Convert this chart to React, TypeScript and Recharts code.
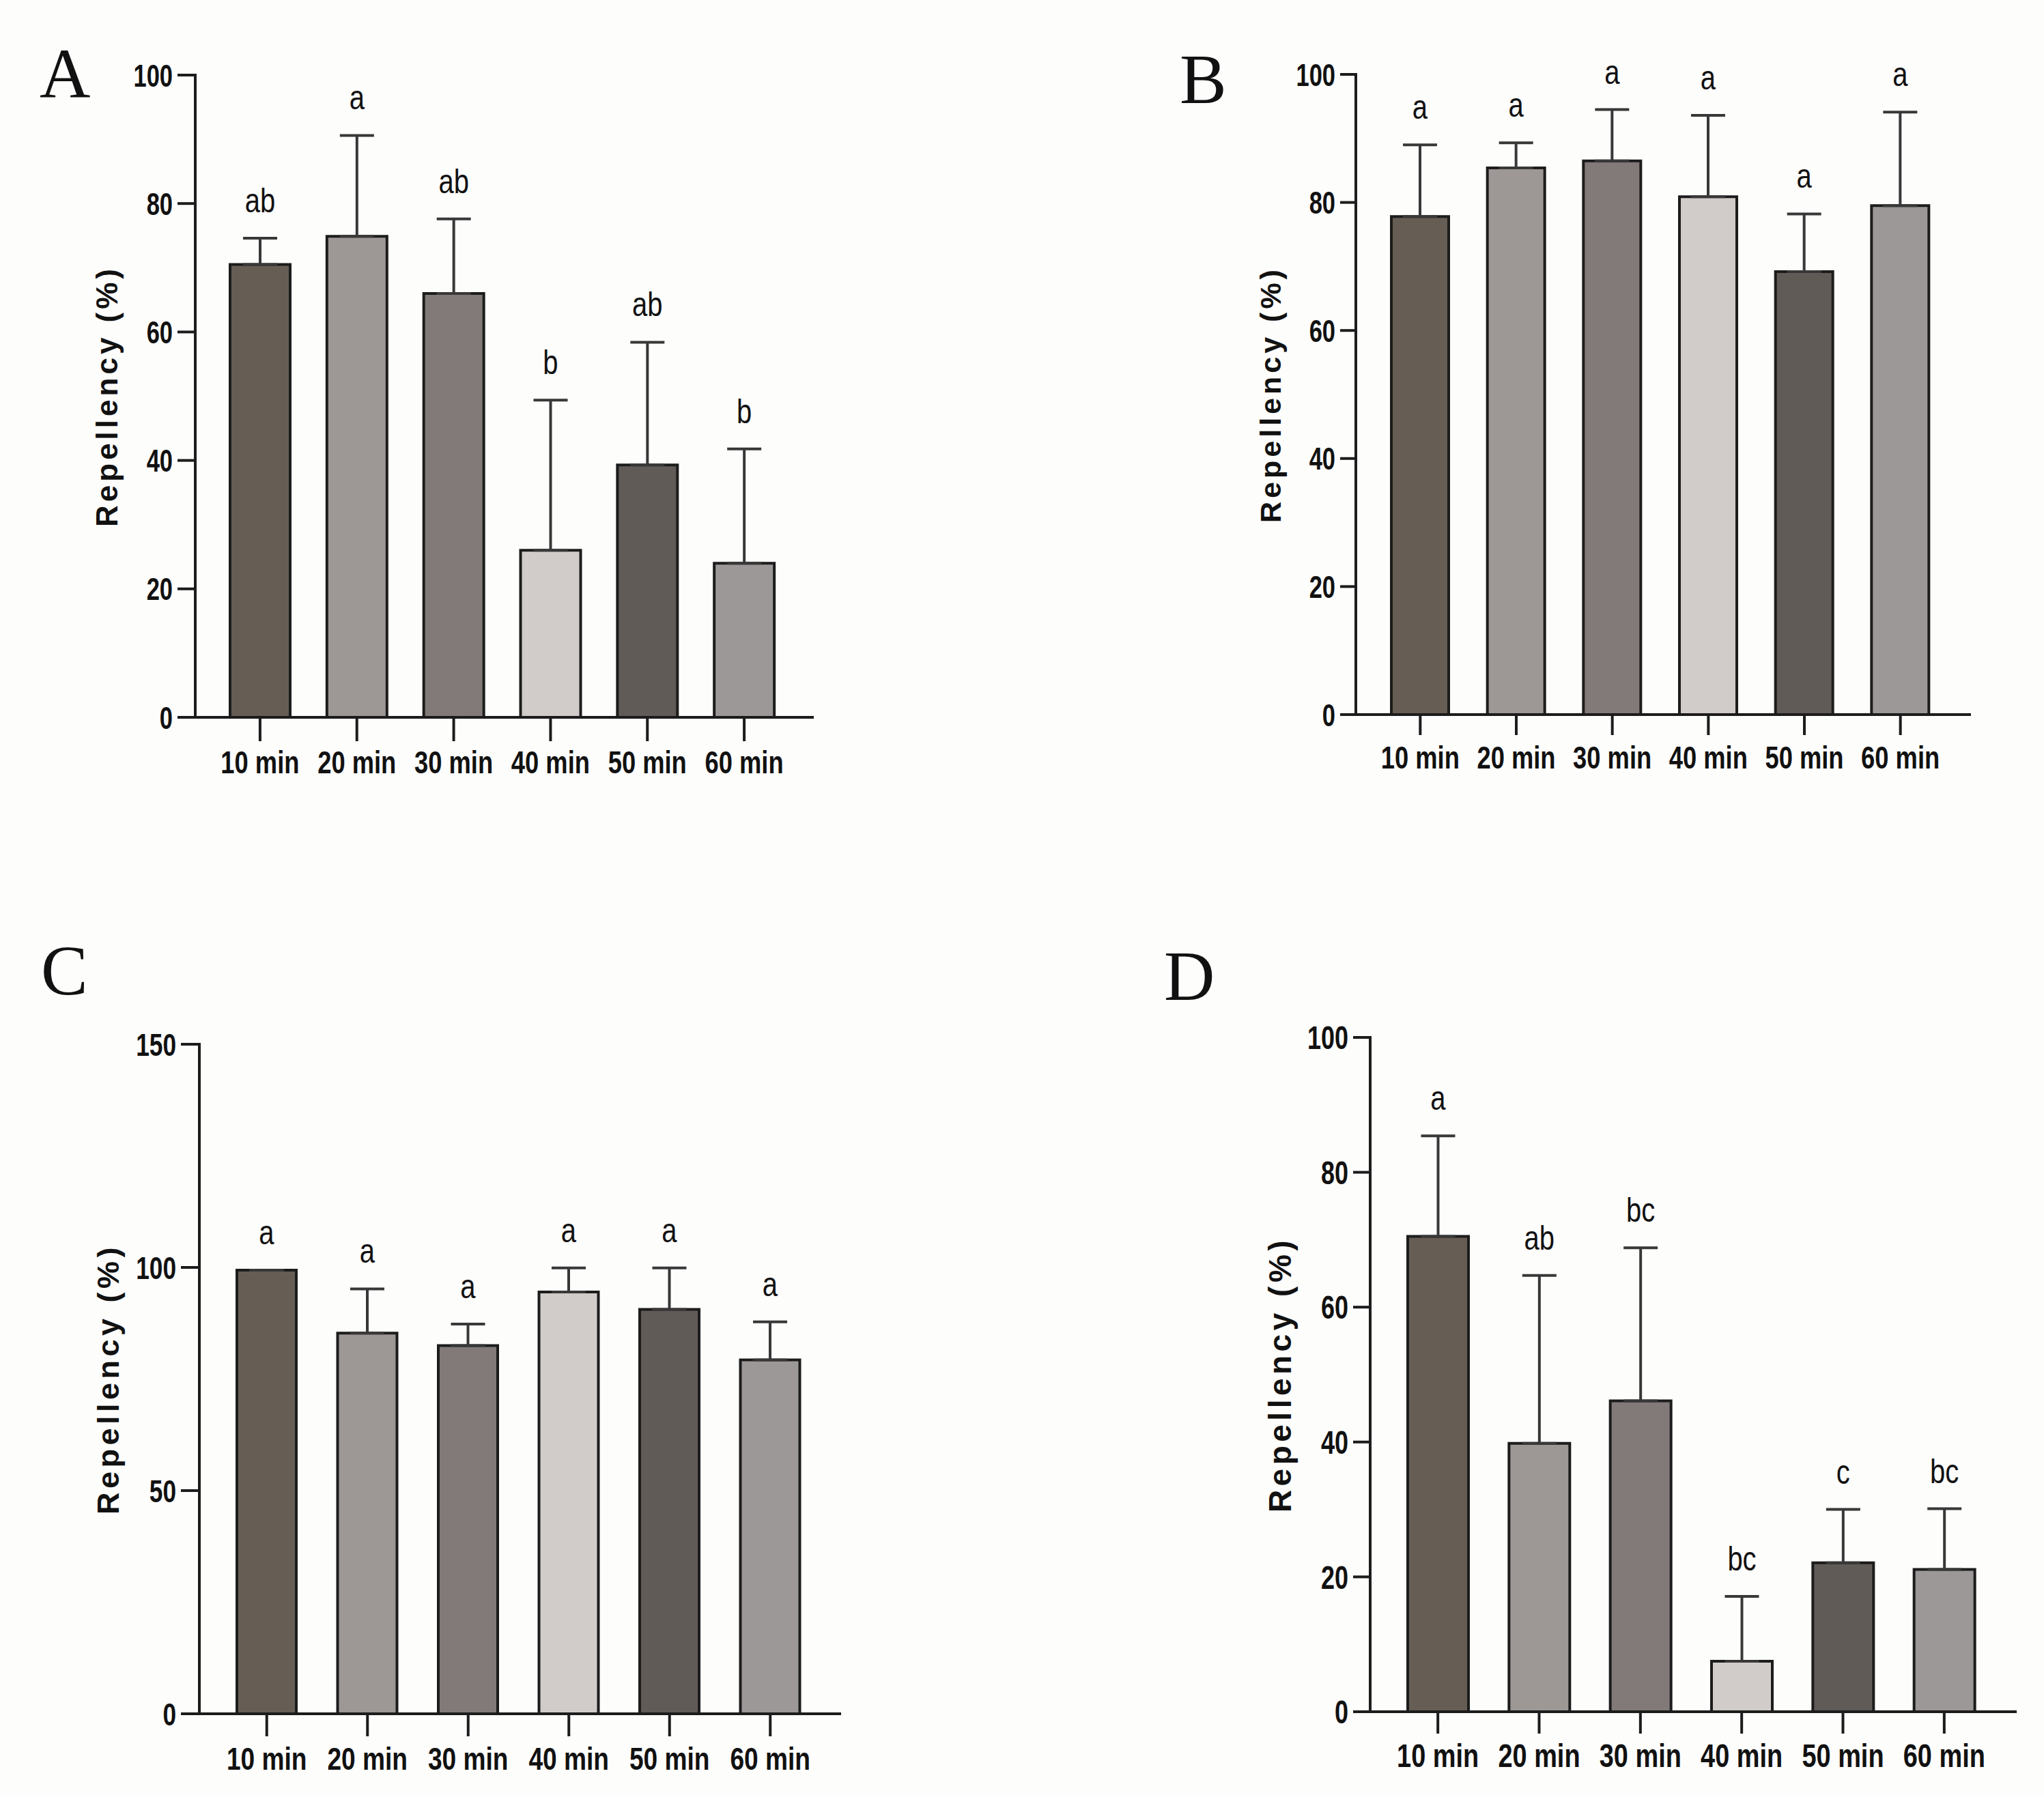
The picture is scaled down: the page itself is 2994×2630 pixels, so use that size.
import React from 'react';
import { BarChart, Bar, XAxis, YAxis, ErrorBar, Cell, LabelList } from 'recharts';

// exposure times (x categories)
const times = ['10 min', '20 min', '30 min', '40 min', '50 min', '60 min'];

// panel A
const meanA = [70.5, 74.9, 66.0, 26.0, 39.3, 24.0];
const sdA = [4.1, 15.7, 11.6, 23.4, 19.1, 17.8];
const lettersA = ['ab', 'a', 'ab', 'b', 'ab', 'b'];

// panel B
const meanB = [77.8, 85.4, 86.5, 80.9, 69.2, 79.5];
const sdB = [11.2, 3.9, 8.0, 12.7, 9.0, 14.6];
const lettersB = ['a', 'a', 'a', 'a', 'a', 'a'];

// panel C
const meanC = [99.4, 85.3, 82.5, 94.5, 90.6, 79.3];
const sdC = [0, 9.9, 4.8, 5.4, 9.3, 8.5];
const lettersC = ['a', 'a', 'a', 'a', 'a', 'a'];

// panel D
const meanD = [70.5, 39.8, 46.1, 7.5, 22.1, 21.1];
const sdD = [14.9, 24.9, 22.7, 9.6, 7.9, 9.0];
const lettersD = ['a', 'ab', 'bc', 'bc', 'c', 'bc'];

const ticks100 = [0, 20, 40, 60, 80, 100];
const ticks150 = [0, 50, 100, 150];

const barFills = ['#665d54', '#9d9796', '#817a78', '#d1ccc9', '#615b58', '#9d9898'];
const ink = '#1c1c1c';
const sans = '"Liberation Sans", Arial, sans-serif';
const serif = '"Liberation Serif", "Times New Roman", serif';

// condensed look: no narrow face is installed, so squeeze Liberation Sans horizontally
function SqueezedText({ x, y, anchor, dy, size, weight, squeeze, children }: any) {
  return (
    <g transform={`translate(${x},${y})`}>
      <text
        transform={`scale(${squeeze},1)`}
        textAnchor={anchor}
        dy={dy}
        style={{ fontFamily: sans, fontSize: size, fontWeight: weight, fill: '#111' }}
      >
        {children}
      </text>
    </g>
  );
}

function Panel(p: any) {
  const { box, axisX, xEnd, yTop, yBottom } = p;
  const rows = times.map((t, i) => ({
    time: t,
    mean: p.means[i],
    err: [0, p.sds[i]],
    letter: p.letters[i],
  }));
  const xAxisHeight = 120;
  const margin = {
    top: yTop - box.top,
    right: box.left + box.w - xEnd,
    bottom: box.top + box.h - yBottom - xAxisHeight,
    left: 0,
  };

  const letterLabel = (lp: any) => {
    const i = lp.index;
    const vb = lp.viewBox || lp;
    const mean = p.means[i];
    const sd = p.sds[i];
    // bar pixels per unit -> top of the error bar
    const perUnit = vb.height / mean;
    const topY = vb.y - sd * perUnit;
    return (
      <SqueezedText
        key={`l-${i}`}
        x={vb.x + vb.width / 2}
        y={topY - 38}
        anchor="middle"
        dy={0}
        size={50}
        weight={400}
        squeeze={0.8}
      >
        {p.letters[i]}
      </SqueezedText>
    );
  };

  return (
    <div style={{ position: 'absolute', left: box.left, top: box.top, width: box.w, height: box.h }}>
      <BarChart width={box.w} height={box.h} data={rows} margin={margin} barSize={p.barSize}>
        <XAxis
          dataKey="time"
          interval={0}
          height={xAxisHeight}
          padding={{ left: p.padL, right: p.padR }}
          axisLine={{ stroke: ink, strokeWidth: 4 }}
          tickLine={{ stroke: ink, strokeWidth: 4 }}
          tickSize={p.xTick}
          tickMargin={p.xTickMargin}
          tick={(tp: any) => (
            <SqueezedText
              key={tp.payload.value}
              x={tp.x}
              y={tp.y}
              anchor="middle"
              dy="0.71em"
              size={p.tickFont}
              weight={700}
              squeeze={0.79}
            >
              {tp.payload.value}
            </SqueezedText>
          )}
        />
        <YAxis
          width={axisX - box.left}
          domain={[0, p.yMax]}
          ticks={p.yTicks}
          interval={0}
          axisLine={{ stroke: ink, strokeWidth: 4, strokeLinecap: 'square' }}
          tickLine={{ stroke: ink, strokeWidth: 4 }}
          tickSize={p.yTick}
          tickMargin={7}
          tick={(tp: any) => (
            <SqueezedText
              key={tp.payload.value}
              x={tp.x}
              y={tp.y}
              anchor="end"
              dy="0.36em"
              size={p.tickFont}
              weight={700}
              squeeze={0.75}
            >
              {tp.payload.value}
            </SqueezedText>
          )}
          label={{
            content: (lp: any) => {
              const vb = lp.viewBox;
              const cx = vb.x + vb.width - p.labelDist;
              const cy = vb.y + vb.height / 2;
              return (
                <text
                  x={cx}
                  y={cy}
                  transform={`rotate(-90 ${cx} ${cy})`}
                  textAnchor="middle"
                  dominantBaseline="central"
                  style={{
                    fontFamily: sans,
                    fontWeight: 700,
                    fontSize: p.labelFont,
                    letterSpacing: p.labelSpacing,
                    fill: '#111',
                  }}
                >
                  Repellency (%)
                </text>
              );
            },
          }}
        />
        <Bar dataKey="mean" stroke={ink} strokeWidth={4} isAnimationActive={false}>
          {rows.map((r, i) => (
            <Cell key={r.time} fill={barFills[i]} />
          ))}
          <ErrorBar
            dataKey="err"
            direction="y"
            width={25}
            stroke="#383838"
            strokeWidth={4}
            isAnimationActive={false}
          />
          <LabelList dataKey="letter" content={letterLabel} />
        </Bar>
      </BarChart>
    </div>
  );
}

export default function App() {
  return (
    <div
      style={{
        position: 'absolute',
        left: 0,
        top: 0,
        width: 2994,
        height: 2630,
        background: '#fdfdfc',
        overflow: 'hidden',
      }}
    >
      <Panel
        box={{ left: 0, top: 0, w: 1497, h: 1315 }}
        axisX={286} xEnd={1192} yTop={110} yBottom={1051}
        padL={24} padR={31} barSize={88}
        xTick={35} xTickMargin={14} yTick={26} tickFont={46}
        labelDist={130} labelFont={44} labelSpacing={5}
        means={meanA} sds={sdA} letters={lettersA} yMax={100} yTicks={ticks100}
      />
      <Panel
        box={{ left: 1497, top: 0, w: 1497, h: 1315 }}
        axisX={1986} xEnd={2887} yTop={109} yBottom={1047}
        padL={24} padR={33} barSize={84}
        xTick={30} xTickMargin={16} yTick={23} tickFont={46}
        labelDist={125} labelFont={43} labelSpacing={5}
        means={meanB} sds={sdB} letters={lettersB} yMax={100} yTicks={ticks100}
      />
      <Panel
        box={{ left: 0, top: 1315, w: 1497, h: 1315 }}
        axisX={292} xEnd={1232} yTop={1530} yBottom={2511}
        padL={25} padR={30} barSize={87}
        xTick={33} xTickMargin={16} yTick={27} tickFont={47}
        labelDist={134} labelFont={45} labelSpacing={5.5}
        means={meanC} sds={sdC} letters={lettersC} yMax={150} yTicks={ticks150}
      />
      <Panel
        box={{ left: 1497, top: 1315, w: 1497, h: 1315 }}
        axisX={2007} xEnd={2954} yTop={1520} yBottom={2508}
        padL={25} padR={32} barSize={89}
        xTick={32} xTickMargin={15} yTick={25} tickFont={48}
        labelDist={132} labelFont={46} labelSpacing={5.5}
        means={meanD} sds={sdD} letters={lettersD} yMax={100} yTicks={ticks100}
      />
      <svg
        width={2994}
        height={2630}
        style={{ position: 'absolute', left: 0, top: 0, pointerEvents: 'none' }}
      >
        <g style={{ fontFamily: serif, fontSize: 103, fill: '#111' }}>
          <text x={58} y={143}>A</text>
          <text x={1728} y={151}>B</text>
          <text x={60} y={1457}>C</text>
          <text x={1705} y={1465}>D</text>
        </g>
      </svg>
    </div>
  );
}
